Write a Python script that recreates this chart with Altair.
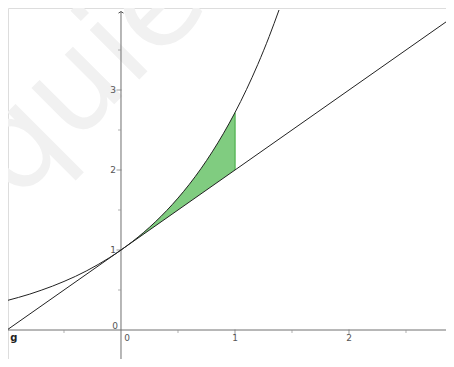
import altair as alt
import pandas as pd

# curve y = e^x, sampled values
curve_x = [-1.0, -0.9, -0.8, -0.7, -0.6, -0.5, -0.4, -0.3, -0.2, -0.1, 0.0,
           0.1, 0.2, 0.3, 0.4, 0.5, 0.6, 0.7, 0.8, 0.9, 1.0, 1.1, 1.2, 1.3, 1.386]
curve_y = [0.368, 0.407, 0.449, 0.497, 0.549, 0.607, 0.670, 0.741, 0.819, 0.905, 1.000,
           1.105, 1.221, 1.350, 1.492, 1.649, 1.822, 2.014, 2.226, 2.460, 2.718, 3.004,
           3.320, 3.669, 4.000]
# line g: y = x + 1
line_x = [-1.0, 2.93]
line_y = [0.0, 3.93]
# shaded region between x=0 and x=1
area_x = [0.0, 0.1, 0.2, 0.3, 0.4, 0.5, 0.6, 0.7, 0.8, 0.9, 1.0]
area_top = [1.000, 1.105, 1.221, 1.350, 1.492, 1.649, 1.822, 2.014, 2.226, 2.460, 2.718]
area_bottom = [1.0, 1.1, 1.2, 1.3, 1.4, 1.5, 1.6, 1.7, 1.8, 1.9, 2.0]

x_major = [1, 2]
x_minor = [-0.5, 0.5, 1.5, 2.5]
y_major = [1, 2, 3]
y_minor = [0.5, 1.5, 2.5, 3.5]
x_labels = ["1", "2"]
y_labels = ["1", "2", "3"]

XD = [-0.9912, 2.8509]
YD = [-0.3625, 4.025]

xs = alt.Scale(domain=XD, nice=False, zero=False)
ys = alt.Scale(domain=YD, nice=False, zero=False)

def X(f="x"):
    return alt.X(f"{f}:Q", scale=xs, axis=None)

def Y(f="y"):
    return alt.Y(f"{f}:Q", scale=ys, axis=None)

curve_df = pd.DataFrame({"x": curve_x, "y": curve_y})
line_df = pd.DataFrame({"x": line_x, "y": line_y})
area_df = pd.DataFrame({"x": area_x, "y": area_top, "y2": area_bottom})

watermark = alt.Chart(pd.DataFrame({"x": [-0.3], "y": [3.15], "t": ["quie"]})).mark_text(
    fontSize=128, angle=315, color="#f1f1f1", font="DejaVu Sans", align="center", baseline="middle"
).encode(x=X(), y=Y(), text="t:N")

area = alt.Chart(area_df).mark_area(color="#80cc80", opacity=1).encode(
    x=X(), y=Y(), y2="y2:Q"
)
edge = alt.Chart(pd.DataFrame({"x": [1.0], "y": [2.0], "y2": [2.718]})).mark_rule(
    color="#5cb85c", strokeWidth=1.5
).encode(x=X(), y=Y(), y2="y2:Q")

xaxis = alt.Chart(pd.DataFrame({"x": [XD[0]], "x2": [XD[1]], "y": [0]})).mark_rule(
    color="#707070", strokeWidth=1
).encode(x=X(), x2="x2:Q", y=Y())
yaxis = alt.Chart(pd.DataFrame({"x": [0], "y": [YD[0]], "y2": [3.98]})).mark_rule(
    color="#707070", strokeWidth=1
).encode(x=X(), y=Y(), y2="y2:Q")
arrow = alt.Chart(pd.DataFrame({"x": [0], "y": [3.98]})).mark_point(
    shape="M -1 0.6 L 0 0 L 1 0.6", filled=False, color="#505050", size=25, strokeWidth=1, opacity=1
).encode(x=X(), y=Y())

xt_major = alt.Chart(pd.DataFrame({"x": x_major, "y": [0] * 2})).mark_tick(
    orient="vertical", size=5, thickness=1, color="#707070", yOffset=2
).encode(x=X(), y=Y())
xt_minor = alt.Chart(pd.DataFrame({"x": x_minor, "y": [0] * 4})).mark_tick(
    orient="vertical", size=3, thickness=1, color="#909090", yOffset=1.5
).encode(x=X(), y=Y())
yt_major = alt.Chart(pd.DataFrame({"x": [0] * 3, "y": y_major})).mark_tick(
    orient="horizontal", size=5, thickness=1, color="#707070", xOffset=-2
).encode(x=X(), y=Y())
yt_minor = alt.Chart(pd.DataFrame({"x": [0] * 4, "y": y_minor})).mark_tick(
    orient="horizontal", size=3, thickness=1, color="#909090", xOffset=-1.5
).encode(x=X(), y=Y())

lab_style = dict(fontSize=9, color="#555555", font="DejaVu Sans")
xl = alt.Chart(pd.DataFrame({"x": x_major, "y": [0] * 2, "t": x_labels})).mark_text(
    dy=8, baseline="middle", align="center", **lab_style
).encode(x=X(), y=Y(), text="t:N")
yl = alt.Chart(pd.DataFrame({"x": [0] * 3, "y": y_major, "t": y_labels})).mark_text(
    dx=-5, baseline="middle", align="right", **lab_style
).encode(x=X(), y=Y(), text="t:N")
origin_x = alt.Chart(pd.DataFrame({"x": [0], "y": [0], "t": ["0"]})).mark_text(
    dx=6, dy=8, baseline="middle", align="center", **lab_style
).encode(x=X(), y=Y(), text="t:N")
origin_y = alt.Chart(pd.DataFrame({"x": [0], "y": [0], "t": ["0"]})).mark_text(
    dx=-6, dy=-4, baseline="middle", align="center", **lab_style
).encode(x=X(), y=Y(), text="t:N")
glabel = alt.Chart(pd.DataFrame({"x": [-0.94], "y": [0], "t": ["g"]})).mark_text(
    dy=8, baseline="middle", align="center", fontSize=10, fontWeight="bold", color="#222222",
    font="DejaVu Sans"
).encode(x=X(), y=Y(), text="t:N")

line = alt.Chart(line_df).mark_line(color="#222222", strokeWidth=1, clip=True).encode(x=X(), y=Y())
curve = alt.Chart(curve_df).mark_line(color="#222222", strokeWidth=1, interpolate="monotone").encode(
    x=X(), y=Y()
)

chart = alt.layer(
    watermark, area, edge, xaxis, yaxis, arrow, xt_major, xt_minor, yt_major, yt_minor,
    xl, yl, origin_x, origin_y, glabel, line, curve
).properties(
    width=438, height=351, padding=0, autosize=alt.AutoSizeParams(type="none")
).configure_view(stroke=None).configure(background="white")

chart.save("out.html", embed_options={"renderer": "svg", "actions": False})
